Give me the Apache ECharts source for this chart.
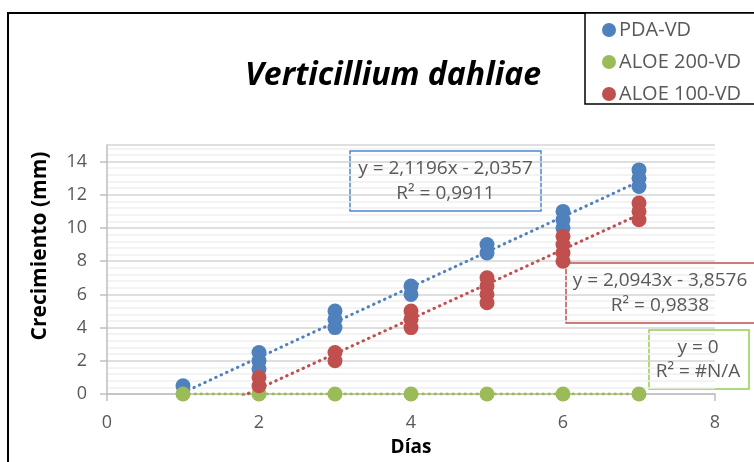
<!DOCTYPE html>
<html>
<head>
<meta charset="utf-8">
<script src="https://cdn.jsdelivr.net/npm/echarts@6/dist/echarts.min.js"></script>
<style>html,body{margin:0;padding:0;background:#fff;}#c{width:754px;height:462px;}</style>
</head>
<body>
<div id="c"></div>
<script>
// ---- data ----
const dias = [1, 2, 3, 4, 5, 6, 7];
// replicate values per day (mm)
const pdaVD     = [[0.5], [2.5, 2, 1.5], [5, 4.5, 4], [6.5, 6], [9, 8.5], [11, 10.5, 10], [13.5, 13, 12.5]];
const aloe200VD = [[0], [0], [0], [0], [0], [0], [0]];
const aloe100VD = [[], [1, 0.5], [2.5, 2], [5, 4.5, 4], [7, 6.5, 6, 5.5], [9.5, 9, 8.5, 8], [11.5, 11, 10.5]];
const seriesNames = ['PDA-VD', 'ALOE 200-VD', 'ALOE 100-VD'];
// trend line coefficients (slope, intercept) as printed on the chart
const trendPDA = [2.1196, -2.0357];
const trend200 = [0, 0];
const trend100 = [2.0943, -3.8576];
const eqPDA = ['y = 2,1196x - 2,0357', 'R² = 0,9911'];
const eq200 = ['y = 0', 'R² = #N/A'];
const eq100 = ['y = 2,0943x - 3,8576', 'R² = 0,9838'];
const xTicks = [0, 2, 4, 6, 8];
const yTicks = [0, 2, 4, 6, 8, 10, 12, 14];

const FONT = '"Open Sans", Lato, sans-serif';
const colors = ['#4F81BD', '#9BBB59', '#C0504D'];

function points(arr) {
  const out = [];
  arr.forEach((vals, i) => vals.forEach(v => out.push([dias[i], v])));
  return out;
}
function trend(c) {
  const x0 = dias[0], x1 = dias[dias.length - 1];
  return [[x0, c[0] * x0 + c[1]], [x1, c[0] * x1 + c[1]]];
}

const chart = echarts.init(document.getElementById('c'), null, {renderer: 'canvas'});

function scatter(name, data, color, z) {
  return {
    name: name, type: 'scatter', data: points(data), symbol: 'circle', symbolSize: 15,
    itemStyle: {color: color, opacity: 1}, z: z
  };
}
function trendLine(data, color) {
  return {
    type: 'line', data: trend(data), symbol: 'none', silent: true, clip: true,
    lineStyle: {color: color, width: 3, type: [0.5, 5.5], cap: 'round'}, z: 1
  };
}
function eqBox(x, y, w, h, color, lines, cx) {
  const tx = cx != null ? cx : x + w / 2;
  return [
    {type: 'rect', shape: {x: x, y: y, width: w, height: h}, style: {fill: 'none', stroke: color, lineWidth: 1.5}, z: 0},
    {type: 'text', x: tx, y: y + h * 0.29, style: {text: lines[0], font: '19px ' + FONT, fill: '#595959', textAlign: 'center', textVerticalAlign: 'middle'}, z: 5},
    {type: 'text', x: tx, y: y + h * 0.71, style: {text: lines[1], font: '19px ' + FONT, fill: '#595959', textAlign: 'center', textVerticalAlign: 'middle'}, z: 5}
  ];
}

const option = {
  animation: false,
  backgroundColor: '#fff',
  grid: {left: 107, right: 39, top: 145, bottom: 67},
  xAxis: {
    type: 'value', min: 0, max: 8, interval: 2,
    axisLine: {show: true, onZero: false, lineStyle: {color: '#BFBFBF', width: 1.5}},
    axisTick: {show: true, length: 7, inside: false, lineStyle: {color: '#BFBFBF', width: 1.5}},
    axisLabel: {fontFamily: FONT, fontSize: 18, color: '#595959', margin: 20,
      formatter: v => xTicks.includes(v) ? String(v) : ''},
    splitLine: {show: false},
    name: 'Días', nameLocation: 'middle', nameGap: 44,
    nameTextStyle: {fontFamily: FONT, fontSize: 19, fontWeight: 'bold', color: '#000'}
  },
  yAxis: {
    type: 'value', min: 0, max: 15, interval: 2,
    axisLine: {show: true, lineStyle: {color: '#BFBFBF', width: 1.5}},
    axisTick: {show: true, length: 7, lineStyle: {color: '#BFBFBF', width: 1.5}},
    axisLabel: {fontFamily: FONT, fontSize: 18, color: '#595959', margin: 20, showMaxLabel: false,
      formatter: v => yTicks.includes(v) ? String(v) : ''},
    splitLine: {show: true, lineStyle: {color: '#D4D4D4', width: 1.5}},
    minorTick: {show: false, splitNumber: 5},
    minorSplitLine: {show: true, lineStyle: {color: '#EFEFEF', width: 1.5}}
  },
  legend: {
    orient: 'vertical', left: 597, top: 15, itemGap: 12,
    icon: 'circle', itemWidth: 14, itemHeight: 14,
    data: seriesNames,
    textStyle: {fontFamily: FONT, fontSize: 20, color: '#595959', padding: [0, 0, 0, -2]}
  },
  graphic: [
    {type: 'rect', shape: {x: 8, y: 13, width: 800, height: 500}, style: {fill: 'none', stroke: '#000', lineWidth: 2}, z: 0},
    {type: 'rect', shape: {x: 585, y: 13, width: 200, height: 91}, style: {fill: '#fff', stroke: '#000', lineWidth: 1.5}, z: 0},
    {type: 'text', x: 393, y: 76, style: {text: 'Verticillium dahliae', font: 'italic bold 32px ' + FONT, fill: '#000', textAlign: 'center', textVerticalAlign: 'middle'}},
    {type: 'text', x: 40, y: 246, rotation: Math.PI / 2, style: {text: 'Crecimiento (mm)', font: 'bold 21px ' + FONT, fill: '#000', textAlign: 'center', textVerticalAlign: 'middle'}},
    ...eqBox(350, 151, 191, 60, '#4F87D0', eqPDA),
    ...eqBox(566, 263, 200, 60, '#C0504D', eq100, 660),
    ...eqBox(649, 330, 100, 59, '#92D050', eq200, 698)
  ],
  series: [
    trendLine(trendPDA, colors[0]),
    trendLine(trend200, colors[1]),
    trendLine(trend100, colors[2]),
    scatter(seriesNames[0], pdaVD, colors[0], 2),
    scatter(seriesNames[1], aloe200VD, colors[1], 3),
    scatter(seriesNames[2], aloe100VD, colors[2], 4)
  ]
};
chart.setOption(option);
</script>
</body>
</html>
